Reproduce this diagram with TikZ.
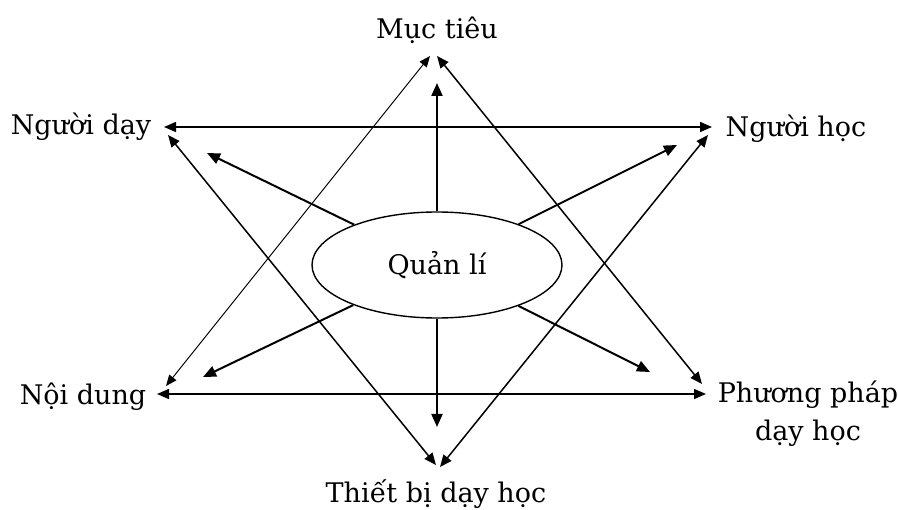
\documentclass[tikz,border=0pt]{standalone}
\usepackage{fontspec}
\setmainfont{DejaVu Serif}
\usetikzlibrary{arrows.meta,shapes.geometric}
\begin{document}
\begin{tikzpicture}[x=1pt,y=-1pt,
  lbl/.style={font=\fontsize{27}{38}\selectfont, text=black, inner sep=0pt, align=center},
  tip/.style={Triangle[length=12pt,width=10pt]},
  thin arr/.style={line width=1pt, {Triangle[length=11pt,width=9pt]}-{Triangle[length=11pt,width=9pt]}},
  hor arr/.style={line width=1.5pt, {Triangle[length=12pt,width=10pt]}-{Triangle[length=12pt,width=10pt]}},
  ray/.style={line width=2pt, -{Triangle[length=13pt,width=11pt]}},
  mid arr/.style={line width=1.5pt, {Triangle[length=12pt,width=10pt]}-{Triangle[length=12pt,width=10pt]}}]
\useasboundingbox (0,0) rectangle (898,510);
\node[lbl] (mt) at (437,30) {Mục tiêu};
\node[lbl] (nd) at (81,127) {Người dạy};
\node[lbl] (nh) at (796,129) {Người học};
\node[lbl] (nc) at (83,397) {Nội dung};
\node[lbl] (pp) at (808,414) {Phương pháp\\dạy học};
\node[lbl] (tb) at (436,494) {Thiết bị dạy học};
\node[draw, ellipse, line width=1.4pt, minimum width=250pt, minimum height=106pt, inner sep=0pt, font=\fontsize{27}{38}\selectfont] (q) at (437,265) {Quản lí};
% endpoints
\coordinate (hA) at (164,127);
\coordinate (hB) at (712,127);
\coordinate (hC) at (157,394);
\coordinate (hD) at (706,394);
\coordinate (t1) at (430,56);
\coordinate (t2) at (437,56);
\coordinate (t3) at (166,386);
\coordinate (t4) at (702,384);
\coordinate (b1) at (436,465);
\coordinate (b2) at (440,467);
\coordinate (b3) at (168,135);
\coordinate (b4) at (708,135);
\coordinate (r1) at (437,83);
\coordinate (r2) at (437,427);
\coordinate (r3) at (207,153);
\coordinate (r4) at (677,145);
\coordinate (r5) at (203,377);
\coordinate (r6) at (650,372);
% horizontals
\draw[hor arr] (hA) -- (hB);
\draw[hor arr] (hC) -- (hD);
% triangle with apex Muc tieu
\draw[thin arr] (t3) -- (t1);
\draw[mid arr] (t2) -- (t4);
% triangle with apex Thiet bi
\draw[mid arr] (b3) -- (b1);
\draw[mid arr] (b4) -- (b2);
% rays from Quan li
\draw[ray] (q) -- (r1);
\draw[ray] (q) -- (r2);
\draw[ray] (q) -- (r3);
\draw[ray] (q) -- (r4);
\draw[ray] (q) -- (r5);
\draw[ray] (q) -- (r6);
\end{tikzpicture}
\end{document}
